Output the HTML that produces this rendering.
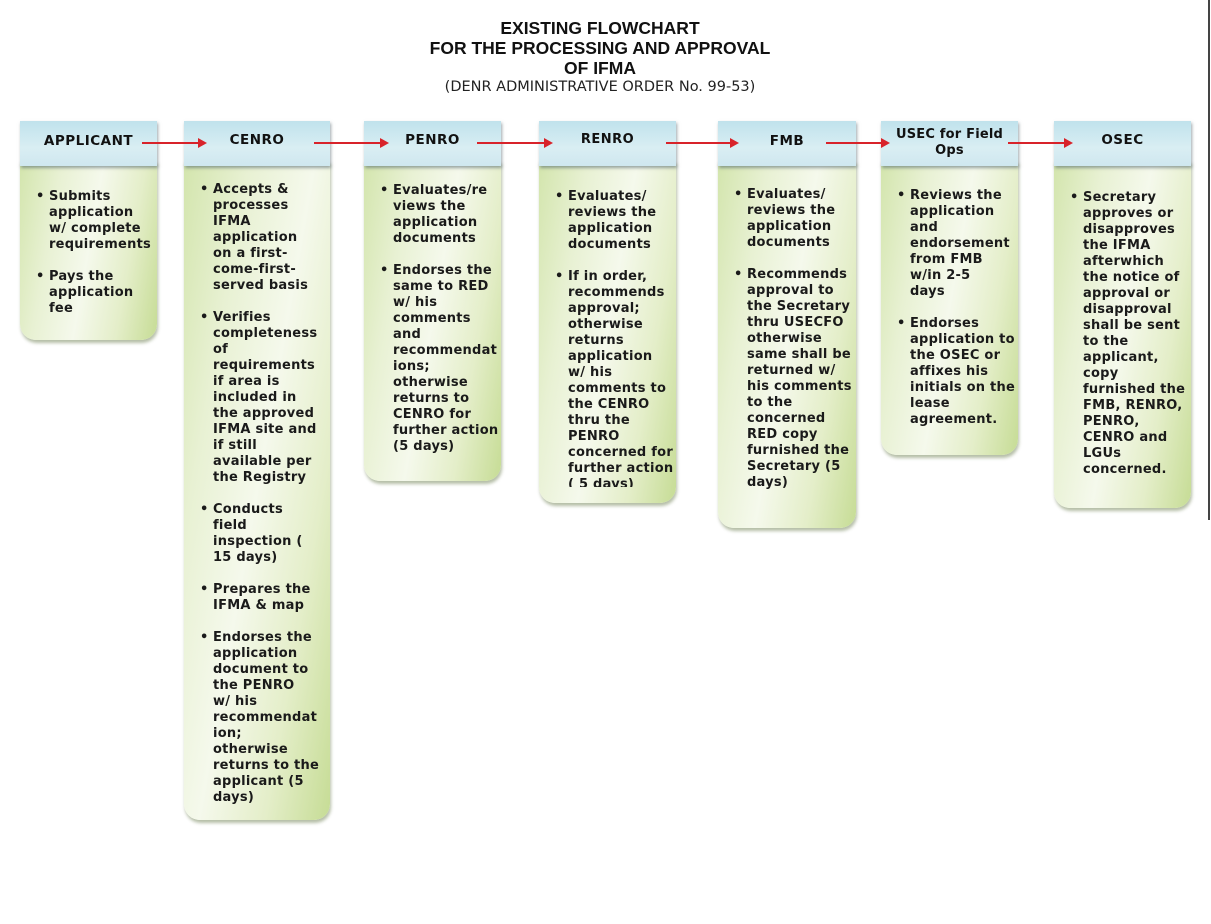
<!DOCTYPE html>
<html><head><meta charset="utf-8"><style>
body{margin:0;width:1211px;height:924px;background:#fff;position:relative;overflow:hidden;font-family:"DejaVu Sans","Liberation Sans",sans-serif;}
.t{position:absolute;left:0;width:1200px;text-align:center;font-family:"Liberation Sans",sans-serif;font-weight:bold;font-size:17.5px;color:#111;}
.sub{position:absolute;left:0;width:1200px;text-align:center;font-size:14.5px;color:#222;}
.col{position:absolute;top:121px;}
.body{position:absolute;left:0;right:0;top:40px;bottom:0;border-radius:0 0 16px 16px;
background:linear-gradient(100deg,#d3e5ad 0%,#e8f1d3 25%,#f5f9ec 50%,#e4eec9 75%,#c6dc95 100%);
box-shadow:1px 3px 3px rgba(90,110,60,.45);}
.hd{position:absolute;left:0;right:0;top:0;height:45px;background:linear-gradient(#c0e2ec,#d9eef3 60%,#cfe7ef);
box-shadow:1px 2px 3px rgba(60,80,90,.5);text-align:center;font-weight:bold;font-size:13.5px;color:#111;letter-spacing:.5px;}
.tx{position:absolute;left:16px;font-weight:bold;font-size:13px;letter-spacing:.25px;line-height:16px;color:#1a1a1a;white-space:nowrap;}
.tx p{margin:0 0 16px 0;padding-left:13px;position:relative;}
.tx p:before{content:"•";position:absolute;left:0;top:0;}
.ar{position:absolute;height:2px;background:#d8232a;top:142px;}
.ar:after{content:"";position:absolute;right:-2px;top:-4px;border-left:9px solid #d8232a;border-top:5px solid transparent;border-bottom:5px solid transparent;}
</style></head><body>
<div class="t" style="top:18px">EXISTING FLOWCHART</div>
<div class="t" style="top:38px">FOR THE PROCESSING AND APPROVAL</div>
<div class="t" style="top:58px">OF IFMA</div>
<div class="sub" style="top:79px">(DENR ADMINISTRATIVE ORDER No. 99-53)</div>
<div style="position:absolute;left:1208px;top:0;width:2px;height:520px;background:#444"></div>

<div class="col" style="left:20px;width:137px;height:219px"><div class="body"></div><div class="hd" style="line-height:40px">APPLICANT</div>
<div class="tx" style="top:68px"><p>Submits<br>application<br>w/ complete<br>requirements</p><p>Pays the<br>application<br>fee</p></div></div>

<div class="col" style="left:184px;width:146px;height:699px"><div class="body"></div><div class="hd" style="line-height:38px">CENRO</div>
<div class="tx" style="top:61px"><p>Accepts &amp;<br>processes<br>IFMA<br>application<br>on a first-<br>come-first-<br>served basis</p><p>Verifies<br>completeness<br>of<br>requirements<br>if area is<br>included in<br>the approved<br>IFMA site and<br>if still<br>available per<br>the Registry</p><p>Conducts<br>field<br>inspection (<br>15 days)</p><p>Prepares the<br>IFMA &amp; map</p><p>Endorses the<br>application<br>document to<br>the PENRO<br>w/ his<br>recommendat<br>ion;<br>otherwise<br>returns to the<br>applicant (5<br>days)</p></div></div>

<div class="col" style="left:364px;width:137px;height:360px"><div class="body"></div><div class="hd" style="line-height:38px">PENRO</div>
<div class="tx" style="top:62px"><p>Evaluates/re<br>views the<br>application<br>documents</p><p>Endorses the<br>same to RED<br>w/ his<br>comments<br>and<br>recommendat<br>ions;<br>otherwise<br>returns to<br>CENRO for<br>further action<br>(5 days)</p></div></div>

<div class="col" style="left:539px;width:137px;height:382px"><div class="body"></div><div class="hd" style="line-height:38px;font-size:13px">RENRO</div>
<div class="tx" style="top:68px;height:298px;overflow:hidden"><p>Evaluates/<br>reviews the<br>application<br>documents</p><p>If in order,<br>recommends<br>approval;<br>otherwise<br>returns<br>application<br>w/ his<br>comments to<br>the CENRO<br>thru the<br>PENRO<br>concerned for<br>further action<br>( 5 days)</p></div></div>

<div class="col" style="left:718px;width:138px;height:407px"><div class="body"></div><div class="hd" style="line-height:40px">FMB</div>
<div class="tx" style="top:66px"><p>Evaluates/<br>reviews the<br>application<br>documents</p><p>Recommends<br>approval to<br>the Secretary<br>thru USECFO<br>otherwise<br>same shall be<br>returned w/<br>his comments<br>to the<br>concerned<br>RED copy<br>furnished the<br>Secretary (5<br>days)</p></div></div>

<div class="col" style="left:881px;width:137px;height:334px"><div class="body"></div><div class="hd" style="line-height:16px;padding-top:6px;height:39px;font-size:13px;letter-spacing:.2px">USEC for Field<br>Ops</div>
<div class="tx" style="top:67px"><p>Reviews the<br>application<br>and<br>endorsement<br>from FMB<br>w/in 2-5<br>days</p><p>Endorses<br>application to<br>the OSEC or<br>affixes his<br>initials on the<br>lease<br>agreement.</p></div></div>

<div class="col" style="left:1054px;width:137px;height:387px"><div class="body"></div><div class="hd" style="line-height:38px">OSEC</div>
<div class="tx" style="top:69px"><p>Secretary<br>approves or<br>disapproves<br>the IFMA<br>afterwhich<br>the notice of<br>approval or<br>disapproval<br>shall be sent<br>to the<br>applicant,<br>copy<br>furnished the<br>FMB, RENRO,<br>PENRO,<br>CENRO and<br>LGUs<br>concerned.</p></div></div>

<div class="ar" style="left:142px;width:63px"></div>
<div class="ar" style="left:314px;width:73px"></div>
<div class="ar" style="left:477px;width:74px"></div>
<div class="ar" style="left:666px;width:71px"></div>
<div class="ar" style="left:826px;width:62px"></div>
<div class="ar" style="left:1008px;width:63px"></div>
</body></html>
